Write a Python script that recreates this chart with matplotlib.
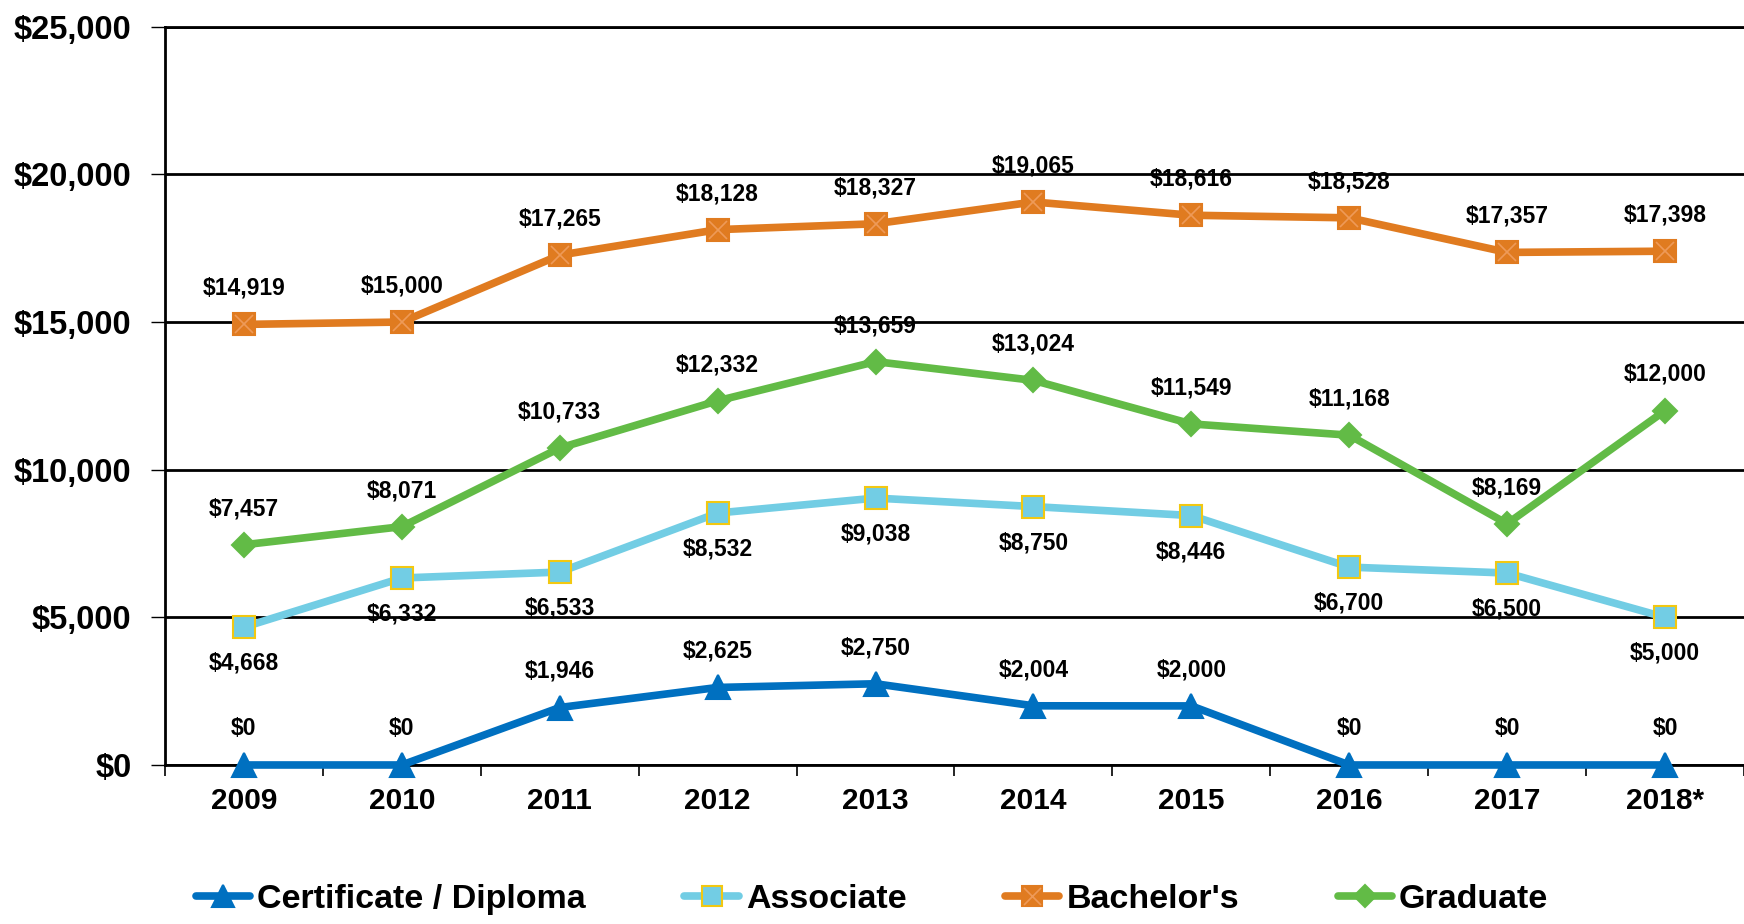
import matplotlib

matplotlib.use("Agg")
import matplotlib.pyplot as plt
from matplotlib.legend_handler import HandlerTuple
from matplotlib.ticker import FuncFormatter, FixedLocator

plt.rcParams["font.family"] = ["Liberation Sans", "DejaVu Sans"]
plt.rcParams["font.weight"] = "bold"

years = ["2009", "2010", "2011", "2012", "2013", "2014", "2015", "2016", "2017", "2018*"]
certificate = [0, 0, 1946, 2625, 2750, 2004, 2000, 0, 0, 0]
associate = [4668, 6332, 6533, 8532, 9038, 8750, 8446, 6700, 6500, 5000]
bachelors = [14919, 15000, 17265, 18128, 18327, 19065, 18616, 18528, 17357, 17398]
graduate = [7457, 8071, 10733, 12332, 13659, 13024, 11549, 11168, 8169, 12000]

# (name, values, color, marker, size, edge, label offset in pt)
series = [
    ("Certificate / Diploma", certificate, "#0070C0", "^", 17, "#0070C0", 26),
    ("Associate", associate, "#72CDE4", "s", 15.5, "#F2C811", -26),
    ("Bachelor's", bachelors, "#E07B20", "s", 16, "#E07B20", 26),
    ("Graduate", graduate, "#62BB46", "D", 12, "#62BB46", 26),
]

fig = plt.figure(figsize=(17.44, 9.24), dpi=100)
ax = fig.add_axes([0.0946, 0.1721, 0.9054, 0.799])

x = list(range(len(years)))
handles = []
for name, vals, color, marker, ms, edge, off in series:
    ln, = ax.plot(x, vals, color=color, lw=5.5, marker=marker, ms=ms,
                  mfc=color, mec=edge, mew=1.5, zorder=3,
                  solid_capstyle="round", clip_on=False)
    h = ln
    if name == "Bachelor's":
        # faint cross drawn inside the square markers
        xm, = ax.plot(x, vals, ls="none", marker="x", ms=ms * 0.85, mec="#EE9A58",
                      mew=1.2, zorder=3.5, clip_on=False)
        h = (ln, xm)
    handles.append(h)
    for xi, v in zip(x, vals):
        ax.annotate(f"${v:,.0f}", (xi, v), xytext=(0, off), textcoords="offset points",
                    ha="center", va="center", fontsize=16.5, fontweight="bold", zorder=4)

ax.set_xlim(-0.5, len(years) - 0.5)
ax.set_ylim(0, 25000)
ax.set_yticks(range(0, 25001, 5000))
ax.yaxis.set_major_formatter(FuncFormatter(lambda v, p: f"${v:,.0f}"))
ax.grid(axis="y", color="black", lw=2, zorder=1)
ax.set_axisbelow(True)

ax.set_xticks(x)
ax.set_xticklabels(years)
ax.xaxis.set_minor_locator(FixedLocator([i - 0.5 for i in range(len(years) + 1)]))
ax.tick_params(axis="x", which="major", length=0, pad=16, labelsize=21.5)
ax.tick_params(axis="x", which="minor", length=8, width=1.2, direction="out")
ax.tick_params(axis="y", length=10, width=1, pad=14, labelsize=23.5)

ax.spines["right"].set_visible(False)
for s in ["top", "left", "bottom"]:
    ax.spines[s].set_linewidth(2)

fig.legend(handles, [s[0] for s in series], loc="center", bbox_to_anchor=(0.5, 0.027),
           ncol=4, frameon=False, prop={"size": 24.5, "weight": "bold"},
           handlelength=1.6, handletextpad=0.2, columnspacing=2.9, markerscale=0.9,
           handler_map={tuple: HandlerTuple(ndivide=1, pad=0)})

fig.savefig("out.png", dpi=100)
